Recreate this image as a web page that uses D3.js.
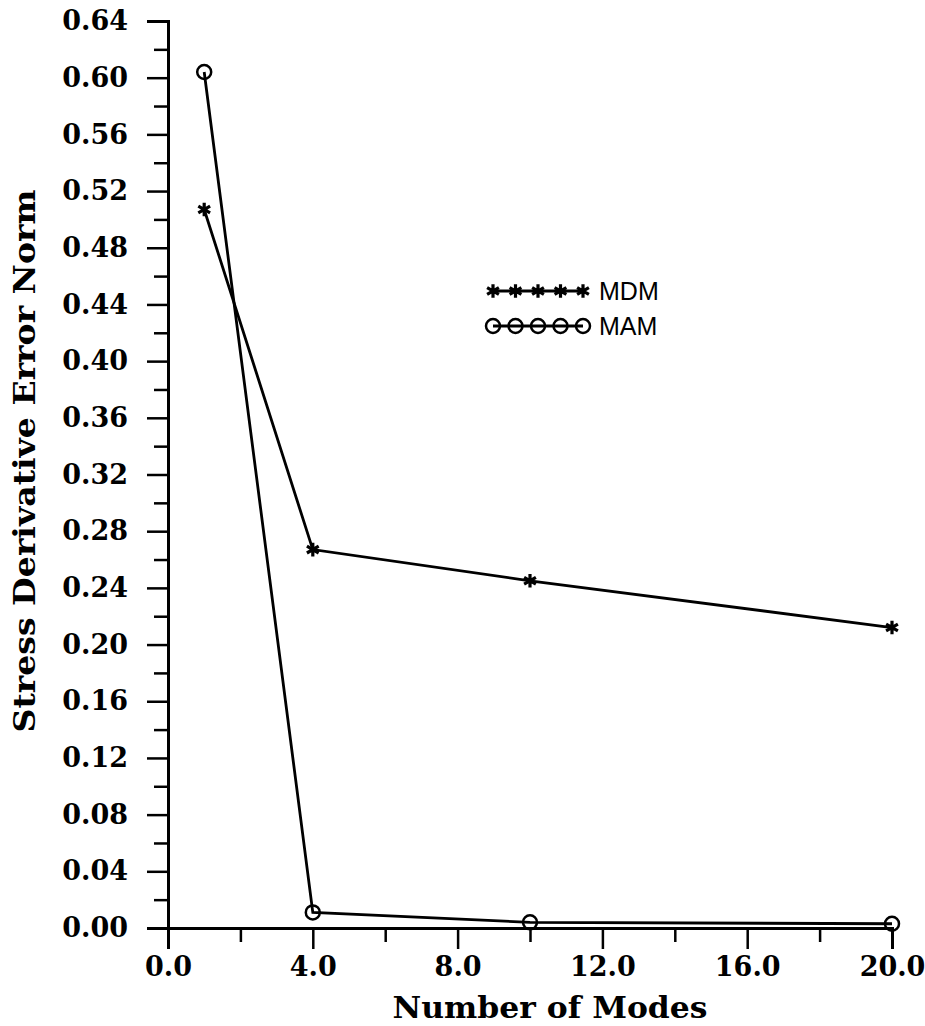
<!DOCTYPE html>
<html>
<head>
<meta charset="utf-8">
<script src="https://cdn.jsdelivr.net/npm/d3@7"></script>
<style>
  body { margin: 0; background: #fff; }
  svg { display: block; }
</style>
</head>
<body>
<div id="chart"></div>
<script>
// data
const modes = [1, 4, 10, 20];
const mdm = [0.507, 0.267, 0.245, 0.212];
const mam = [0.604, 0.011, 0.004, 0.003];
const xMajor = [0, 4, 8, 12, 16, 20];
const yMajor = [0, 0.04, 0.08, 0.12, 0.16, 0.20, 0.24, 0.28, 0.32, 0.36, 0.40, 0.44, 0.48, 0.52, 0.56, 0.60, 0.64];
const seriesNames = ['MDM', 'MAM'];

const width = 925;
const height = 1026;
const margin = { top: 21, right: 33, bottom: 98, left: 168 };

const serif = "'DejaVu Serif', serif";

const svg = d3.select('#chart')
    .append('svg')
    .attr('width', width)
    .attr('height', height);

const x = d3.scaleLinear()
    .domain([0, 20])
    .range([margin.left, width - margin.right]);

const y = d3.scaleLinear()
    .domain([0, 0.64])
    .range([height - margin.bottom, margin.top]);

// minor ticks
const xMinor = d3.range(2, 20, 4);
const yMinor = d3.range(0.02, 0.64, 0.04);

function xAxis(g) {
    g.attr('transform', `translate(0,${y(0)})`)
        .call(d3.axisBottom(x).tickValues(xMajor).tickFormat(d3.format('.1f')).tickSize(21).tickPadding(8));
    g.select('.domain').attr('stroke-width', 3);
    g.selectAll('.tick line').attr('stroke-width', 2.5);
    g.selectAll('.tick text')
        .attr('font-family', serif)
        .attr('font-weight', 'bold')
        .attr('font-size', 27)
        .attr('fill', '#000');
}

function yAxis(g) {
    g.attr('transform', `translate(${x(0)},0)`)
        .call(d3.axisLeft(y).tickValues(yMajor).tickFormat(d3.format('.2f')).tickSize(21).tickPadding(19));
    g.select('.domain').attr('stroke-width', 3);
    g.selectAll('.tick line').attr('stroke-width', 2.5);
    g.selectAll('.tick text')
        .attr('font-family', serif)
        .attr('font-weight', 'bold')
        .attr('font-size', 27)
        .attr('fill', '#000');
}

svg.append('g').call(xAxis);
svg.append('g').call(yAxis);

// minor tick marks
svg.append('g')
    .attr('transform', `translate(0,${y(0)})`)
    .call(d3.axisBottom(x).tickValues(xMinor).tickSize(14).tickFormat(''))
    .call(g => g.select('.domain').remove())
    .selectAll('.tick line').attr('stroke-width', 2.5);

svg.append('g')
    .attr('transform', `translate(${x(0)},0)`)
    .call(d3.axisLeft(y).tickValues(yMinor).tickSize(14).tickFormat(''))
    .call(g => g.select('.domain').remove())
    .selectAll('.tick line').attr('stroke-width', 2.5);

// axis titles
svg.append('text')
    .attr('x', (x(0) + x(20)) / 2 + 20)
    .attr('y', 1018)
    .attr('text-anchor', 'middle')
    .attr('font-family', serif)
    .attr('font-weight', 'bold')
    .attr('font-size', 30)
    .attr('textLength', 315)
    .attr('lengthAdjust', 'spacingAndGlyphs')
    .text('Number of Modes');

svg.append('text')
    .attr('transform', `translate(35,${461}) rotate(-90)`)
    .attr('text-anchor', 'middle')
    .attr('font-family', serif)
    .attr('font-weight', 'bold')
    .attr('font-size', 29)
    .attr('textLength', 543)
    .attr('lengthAdjust', 'spacingAndGlyphs')
    .text('Stress Derivative Error Norm');

// lines
const line = d3.line()
    .x(d => x(d[0]))
    .y(d => y(d[1]));

const mdmPts = d3.zip(modes, mdm);
const mamPts = d3.zip(modes, mam);

svg.append('path')
    .datum(mdmPts)
    .attr('fill', 'none')
    .attr('stroke', '#000')
    .attr('stroke-width', 2.8)
    .attr('d', line);

svg.append('path')
    .datum(mamPts)
    .attr('fill', 'none')
    .attr('stroke', '#000')
    .attr('stroke-width', 2.8)
    .attr('d', line);

const star = d3.symbol().type(d3.symbolAsterisk).size(130);

svg.append('g')
    .selectAll('path')
    .data(mdmPts)
    .join('path')
        .attr('transform', d => `translate(${x(d[0])},${y(d[1])})`)
        .attr('d', star)
        .attr('fill', 'none')
        .attr('stroke', '#000')
        .attr('stroke-width', 3.2);

svg.append('g')
    .selectAll('circle')
    .data(mamPts)
    .join('circle')
        .attr('cx', d => x(d[0]))
        .attr('cy', d => y(d[1]))
        .attr('r', 7)
        .attr('fill', 'none')
        .attr('stroke', '#000')
        .attr('stroke-width', 2.5);

// legend
const legend = svg.append('g').attr('transform', 'translate(493,291)');
const legendX = d3.scaleLinear().domain([0, 4]).range([0, 90]);
const legendIdx = d3.range(5);

seriesNames.forEach((name, i) => {
    const row = legend.append('g').attr('transform', `translate(0,${i * 35})`);
    row.append('line')
        .attr('x1', legendX(0)).attr('x2', legendX(4))
        .attr('stroke', '#000').attr('stroke-width', 2.8);
    if (i === 0) {
        row.selectAll('path')
            .data(legendIdx)
            .join('path')
                .attr('transform', d => `translate(${legendX(d)},0)`)
                .attr('d', star)
                .attr('fill', 'none')
                .attr('stroke', '#000')
                .attr('stroke-width', 3.2);
    } else {
        row.selectAll('circle')
            .data(legendIdx)
            .join('circle')
                .attr('cx', d => legendX(d))
                .attr('r', 7)
                .attr('fill', 'none')
                .attr('stroke', '#000')
                .attr('stroke-width', 2.5);
    }
    row.append('text')
        .attr('x', 106)
        .attr('dy', '0.36em')
        .attr('font-family', "'Liberation Sans', Arial, sans-serif")
        .attr('font-size', 25)
        .text(name);
});
</script>
</body>
</html>
